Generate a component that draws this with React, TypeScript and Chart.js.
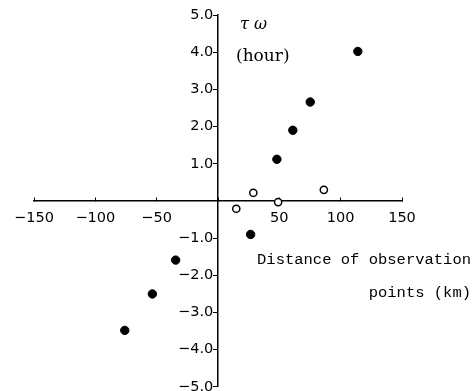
import React, { useEffect, useRef } from "react";
import { Chart, registerables } from "chart.js";

Chart.register(...registerables);

const filledX = [-76, -53.5, -34.5, 26.6, 48, 61, 75.2, 114];
const filledY = [-3.48, -2.5, -1.59, -0.9, 1.12, 1.9, 2.66, 4.02];
const openX = [14.9, 28.8, 49, 86.3];
const openY = [-0.21, 0.22, -0.03, 0.3];

const xTicks = [-150, -100, -50, 0, 50, 100, 150];
const yTicks = [-5, -4, -3, -2, -1, 0, 1, 2, 3, 4, 5];

const yTitle1 = "τ ω";
const yTitle2 = "(hour)";
const xTitle1 = "Distance of observation";
const xTitle2 = "points (km)";

const MINUS = "\u2212";
const GAP = "\u2004";

const textPlugin = {
  id: "annotText",
  afterDraw(chart: any) {
    const ctx = chart.ctx;
    const x0 = chart.scales.x.getPixelForValue(0);
    ctx.save();
    ctx.fillStyle = "#000";
    ctx.textBaseline = "middle";
    ctx.textAlign = "left";
    ctx.font = "italic 16px 'DejaVu Serif'";
    ctx.fillText(yTitle1, x0 + 22, 25);
    ctx.font = "17px 'DejaVu Serif'";
    ctx.fillText(yTitle2, x0 + 18, 57);
    ctx.textAlign = "right";
    ctx.font = "15.5px 'Liberation Mono'";
    ctx.fillText(xTitle1, 471, 260);
    ctx.fillText(xTitle2, 471, 293);
    ctx.restore();
  },
};

export default function App() {
  const ref = useRef<HTMLCanvasElement>(null);
  useEffect(() => {
    document.body.style.margin = "0";
    const chart = new Chart(ref.current!, {
      type: "scatter",
      data: {
        datasets: [
          {
            data: filledX.map((x, i) => ({ x, y: filledY[i] })),
            backgroundColor: "#000",
            borderColor: "#000",
            borderWidth: 1,
            pointRadius: 4.2,
          },
          {
            data: openX.map((x, i) => ({ x, y: openY[i] })),
            backgroundColor: "#fff",
            borderColor: "#000",
            borderWidth: 1.5,
            pointRadius: 3.6,
          },
        ],
      },
      options: {
        responsive: false,
        animation: false,
        clip: false as any,
        layout: { padding: { left: 34, right: 72, top: 15, bottom: 3 } },
        plugins: { legend: { display: false }, tooltip: { enabled: false } },
        scales: {
          x: {
            type: "linear",
            min: -150,
            max: 150,
            position: { y: 0 } as any,
            afterBuildTicks: (s: any) => {
              s.ticks = xTicks.map((v) => ({ value: v }));
            },
            border: { display: true, color: "#000", width: 1.5 },
            grid: {
              display: true,
              drawOnChartArea: false,
              drawTicks: true,
              tickLength: -4,
              color: "#000",
              lineWidth: 1,
            },
            ticks: {
              color: "#000",
              padding: 13,
              maxRotation: 0,
              autoSkip: false,
              font: { family: "'DejaVu Sans'", size: 14.5, lineHeight: 1.2 },
              callback: (v: any) =>
                v === 0 ? "" : v < 0 ? MINUS + String(-v) : String(v),
            },
          },
          y: {
            type: "linear",
            min: -5,
            max: 5,
            position: { x: 0 } as any,
            afterBuildTicks: (s: any) => {
              s.ticks = yTicks.map((v) => ({ value: v }));
            },
            border: { display: true, color: "#000", width: 1.5 },
            grid: {
              display: true,
              drawOnChartArea: false,
              drawTicks: true,
              tickLength: 4,
              color: "#000",
              lineWidth: 1,
            },
            ticks: {
              color: "#000",
              padding: 3,
              autoSkip: false,
              font: { family: "'DejaVu Sans'", size: 14.5, lineHeight: 0.7 },
              callback: (v: any) =>
                v === 0
                  ? ""
                  : (v < 0 ? MINUS + (-v).toFixed(1) : Number(v).toFixed(1)) + GAP,
            },
          },
        },
      },
      plugins: [textPlugin],
    });
    return () => chart.destroy();
  }, []);
  return (
    <div style={{ position: "fixed", left: 0, top: 0, width: 474, height: 391, overflow: "hidden", background: "#fff" }}>
      <canvas ref={ref} width={474} height={395} style={{ display: "block" }} />
    </div>
  );
}
